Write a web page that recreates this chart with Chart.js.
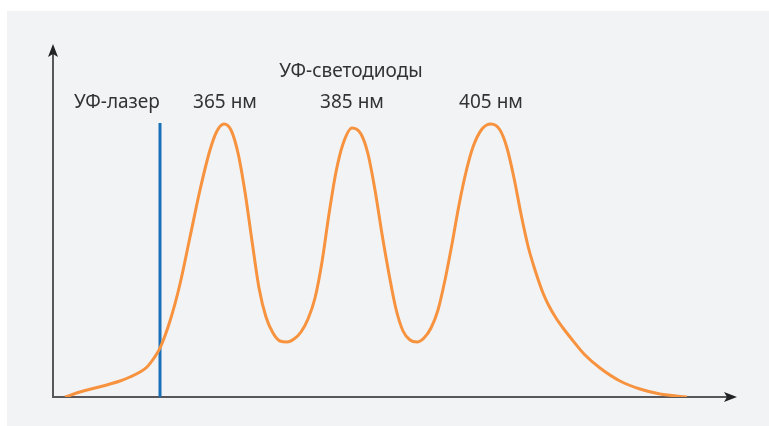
<!DOCTYPE html>
<html>
<head>
<meta charset="utf-8">
<script src="https://cdn.jsdelivr.net/npm/chart.js@4/dist/chart.umd.min.js"></script>
<style>
  html, body { margin: 0; padding: 0; background: #fff; }
  #wrap { width: 769px; height: 426px; position: relative; }
</style>
</head>
<body>
<div id="wrap"><canvas id="chart" width="769" height="426"></canvas></div>
<script>
(function () {
  'use strict';

  // spectrum curve, arbitrary units (x along axis, y = intensity)
  var curveX = [12, 27, 42, 57, 67, 77, 87, 94, 101, 107, 117, 127, 137, 147, 157, 164, 171, 178, 185, 192,
    199, 206, 213, 220, 227, 234, 241, 248, 255, 262, 269, 276, 283, 290, 299, 308, 315, 322, 329, 336,
    343, 350, 357, 364, 371, 378, 385, 392, 399, 406, 413, 420, 429, 438, 447, 454, 461, 468, 475, 482,
    490, 496, 503, 510, 517, 532, 547, 567, 587, 607, 634];
  var curveY = [0, 5, 9, 13, 16, 20, 25, 30, 39, 49, 76, 113, 160, 207, 247, 266, 273, 267, 244, 205,
    156, 109, 80, 64, 56, 55, 58, 65, 78, 99, 135, 183, 225, 253, 269, 263, 243, 207, 163, 123,
    88, 66, 57, 55, 59, 69, 87, 117, 153, 192, 225, 250, 268, 273, 267, 249, 219, 183, 151, 127,
    104, 91, 79, 69, 60, 42, 29, 16, 8, 3, 0];

  // UV laser line
  var laserX = 107;
  var laserTop = 274;

  var axisMaxX = 684;
  var axisMaxY = 353;

  var labels = [
    { text: 'УФ-лазер', x: 64, y: 294 },
    { text: '365 нм', x: 172, y: 294 },
    { text: '385 нм', x: 299, y: 294 },
    { text: '405 нм', x: 438, y: 294 },
    { text: 'УФ-светодиоды', x: 298, y: 325 }
  ];

  var colors = {
    panel: '#f2f3f5',
    axis: '#58585a',
    arrow: '#232325',
    curve: '#f7923e',
    laser: '#1a70b8',
    text: '#333333'
  };

  var curveData = curveX.map(function (x, i) { return { x: x, y: curveY[i] }; });

  var backdrop = {
    id: 'backdrop',
    beforeDraw: function (chart) {
      var ctx = chart.ctx;
      ctx.save();
      ctx.fillStyle = '#ffffff';
      ctx.fillRect(0, 0, chart.width, chart.height);
      ctx.fillStyle = colors.panel;
      ctx.fillRect(7, 11, chart.width - 7, chart.height - 11);
      ctx.restore();
    }
  };

  var axesArrows = {
    id: 'axesArrows',
    beforeDatasetsDraw: function (chart) {
      var ctx = chart.ctx;
      var xs = chart.scales.x, ys = chart.scales.y;
      var x0 = xs.getPixelForValue(0), y0 = ys.getPixelForValue(0);
      var x1 = xs.getPixelForValue(axisMaxX), y1 = ys.getPixelForValue(axisMaxY);
      ctx.save();
      ctx.strokeStyle = colors.axis;
      ctx.lineWidth = 2;
      ctx.beginPath();
      ctx.moveTo(x0, y1 + 8);
      ctx.lineTo(x0, y0);
      ctx.lineTo(x1 - 8, y0);
      ctx.stroke();
      ctx.fillStyle = colors.arrow;
      ctx.beginPath();
      ctx.moveTo(x0, y1);
      ctx.lineTo(x0 - 5, y1 + 13);
      ctx.lineTo(x0, y1 + 10);
      ctx.lineTo(x0 + 5, y1 + 13);
      ctx.closePath();
      ctx.fill();
      ctx.beginPath();
      ctx.moveTo(x1, y0);
      ctx.lineTo(x1 - 13, y0 - 5);
      ctx.lineTo(x1 - 10, y0);
      ctx.lineTo(x1 - 13, y0 + 5);
      ctx.closePath();
      ctx.fill();
      ctx.restore();
    }
  };

  var textLabels = {
    id: 'textLabels',
    afterDatasetsDraw: function (chart) {
      var ctx = chart.ctx;
      var xs = chart.scales.x, ys = chart.scales.y;
      ctx.save();
      ctx.fillStyle = colors.text;
      ctx.font = '19px "Noto Sans", sans-serif';
      ctx.textAlign = 'center';
      ctx.textBaseline = 'middle';
      labels.forEach(function (l) {
        ctx.fillText(l.text, xs.getPixelForValue(l.x), ys.getPixelForValue(l.y));
      });
      ctx.restore();
    }
  };

  new Chart(document.getElementById('chart'), {
    type: 'line',
    data: {
      datasets: [
        {
          data: curveData,
          borderColor: colors.curve,
          borderWidth: 3,
          pointRadius: 0,
          cubicInterpolationMode: 'monotone',
          fill: false
        },
        {
          data: [{ x: laserX, y: 0 }, { x: laserX, y: laserTop }],
          borderColor: colors.laser,
          borderWidth: 3,
          pointRadius: 0,
          tension: 0
        }
      ]
    },
    options: {
      responsive: false,
      animation: false,
      layout: { padding: { left: 53, right: 32, top: 44, bottom: 29 } },
      plugins: { legend: { display: false }, tooltip: { enabled: false } },
      scales: {
        x: { type: 'linear', min: 0, max: axisMaxX, display: false },
        y: { type: 'linear', min: 0, max: axisMaxY, display: false }
      }
    },
    plugins: [backdrop, axesArrows, textLabels]
  });
})();
</script>
</body>
</html>
